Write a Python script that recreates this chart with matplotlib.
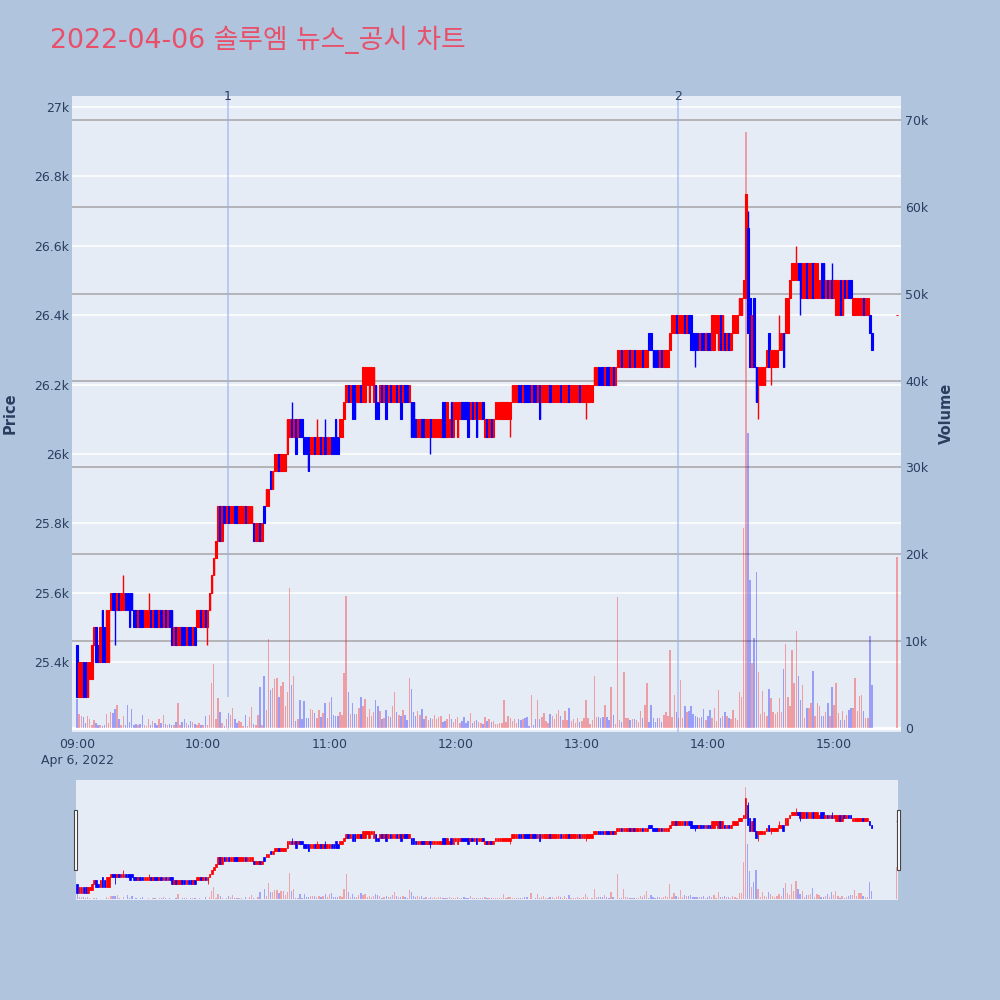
import matplotlib
matplotlib.use('Agg')
import matplotlib.pyplot as plt
from matplotlib.patches import Rectangle

plt.rcParams['font.family'] = ['DejaVu Sans', 'Noto Sans CJK KR']

title = "2022-04-06 솔루엠 뉴스_공시 차트"

# minutes after 09:00 (one candle per minute, plus the 15:30 closing auction)
minutes = list(range(379)) + [390]

open_ = [
    25450, 25300, 25300, 25400, 25400, 25300, 25350, 25350, 25450, 25500,
    25450, 25400, 25550, 25500, 25400, 25400, 25550, 25600, 25600, 25550,
    25600, 25550, 25550, 25600, 25600, 25600, 25600, 25550, 25550, 25500,
    25550, 25550, 25500, 25500, 25500, 25550, 25500, 25550, 25550, 25500,
    25550, 25500, 25550, 25500, 25550, 25550, 25450, 25500, 25450, 25450,
    25500, 25500, 25450, 25500, 25500, 25450, 25500, 25500, 25500, 25550,
    25500, 25550, 25500, 25550, 25600, 25650, 25700, 25750, 25850, 25750,
    25850, 25800, 25850, 25800, 25800, 25850, 25850, 25800, 25800, 25800,
    25850, 25800, 25800, 25800, 25800, 25750, 25750, 25800, 25750, 25850,
    25850, 25850, 25950, 25900, 25950, 25950, 26000, 25950, 25950, 25950,
    26000, 26050, 26100, 26050, 26100, 26050, 26100, 26100, 26050, 26050,
    26050, 26000, 26000, 26050, 26000, 26000, 26050, 26000, 26050, 26000,
    26000, 26050, 26050, 26100, 26050, 26050, 26050, 26100, 26150, 26200,
    26150, 26200, 26200, 26150, 26150, 26200, 26150, 26150, 26200, 26150,
    26200, 26150, 26200, 26150, 26150, 26200, 26150, 26200, 26150, 26200,
    26150, 26150, 26200, 26150, 26200, 26150, 26200, 26200, 26150, 26150,
    26150, 26100, 26050, 26050, 26100, 26100, 26050, 26050, 26100, 26050,
    26050, 26050, 26050, 26050, 26150, 26150, 26050, 26050, 26150, 26050,
    26100, 26050, 26100, 26150, 26150, 26150, 26150, 26100, 26150, 26100,
    26150, 26100, 26100, 26150, 26050, 26100, 26050, 26100, 26050, 26100,
    26100, 26100, 26100, 26100, 26100, 26100, 26100, 26150, 26150, 26150,
    26200, 26200, 26150, 26200, 26200, 26200, 26150, 26200, 26200, 26150,
    26200, 26150, 26150, 26150, 26150, 26200, 26150, 26150, 26150, 26150,
    26200, 26150, 26150, 26150, 26200, 26150, 26150, 26150, 26150, 26200,
    26150, 26150, 26150, 26150, 26150, 26150, 26200, 26200, 26250, 26250,
    26250, 26200, 26250, 26250, 26200, 26250, 26200, 26250, 26250, 26300,
    26250, 26250, 26250, 26300, 26250, 26300, 26250, 26250, 26250, 26300,
    26250, 26250, 26350, 26350, 26300, 26300, 26300, 26250, 26300, 26250,
    26250, 26250, 26300, 26350, 26350, 26400, 26350, 26350, 26350, 26400,
    26350, 26400, 26400, 26350, 26350, 26350, 26300, 26350, 26350, 26300,
    26350, 26350, 26300, 26300, 26350, 26300, 26400, 26300, 26350, 26300,
    26350, 26300, 26350, 26350, 26350, 26400, 26400, 26450, 26450, 26650,
    26450, 26250, 26450, 26250, 26200, 26200, 26200, 26200, 26250, 26350,
    26250, 26250, 26250, 26250, 26300, 26300, 26350, 26350, 26350, 26450,
    26500, 26500, 26500, 26550, 26550, 26450, 26450, 26550, 26450, 26450,
    26550, 26450, 26450, 26450, 26550, 26550, 26450, 26500, 26450, 26500,
    26450, 26400, 26400, 26500, 26400, 26500, 26450, 26500, 26500, 26400,
    26400, 26400, 26400, 26400, 26450, 26400, 26400, 26400, 26350,
    26400,
]
close = [
    25300, 25400, 25400, 25300, 25300, 25400, 25400, 25450, 25500, 25400,
    25400, 25500, 25400, 25400, 25550, 25550, 25600, 25550, 25550, 25600,
    25550, 25600, 25600, 25550, 25550, 25500, 25550, 25500, 25500, 25550,
    25500, 25500, 25550, 25550, 25550, 25500, 25550, 25500, 25500, 25550,
    25500, 25550, 25500, 25550, 25500, 25450, 25500, 25450, 25500, 25500,
    25450, 25450, 25500, 25450, 25450, 25500, 25450, 25550, 25550, 25500,
    25550, 25500, 25550, 25600, 25650, 25700, 25750, 25850, 25750, 25850,
    25800, 25850, 25800, 25850, 25850, 25800, 25800, 25850, 25850, 25850,
    25800, 25850, 25850, 25850, 25750, 25800, 25800, 25750, 25800, 25800,
    25900, 25900, 25900, 25950, 26000, 26000, 25950, 26000, 26000, 26000,
    26100, 26100, 26050, 26100, 26000, 26100, 26050, 26050, 26000, 26000,
    25950, 26050, 26050, 26000, 26050, 26050, 26000, 26050, 26000, 26050,
    26050, 26000, 26000, 26000, 26000, 26100, 26100, 26150, 26200, 26150,
    26200, 26100, 26100, 26200, 26200, 26150, 26250, 26250, 26250, 26250,
    26250, 26250, 26100, 26100, 26200, 26150, 26200, 26100, 26200, 26150,
    26200, 26200, 26150, 26200, 26100, 26200, 26150, 26150, 26200, 26050,
    26050, 26050, 26100, 26100, 26050, 26050, 26100, 26100, 26050, 26100,
    26100, 26100, 26100, 26100, 26050, 26050, 26150, 26100, 26050, 26150,
    26150, 26150, 26150, 26100, 26100, 26100, 26050, 26150, 26100, 26150,
    26050, 26150, 26150, 26100, 26100, 26050, 26100, 26050, 26100, 26150,
    26150, 26150, 26150, 26150, 26150, 26150, 26150, 26200, 26200, 26200,
    26150, 26150, 26200, 26150, 26150, 26150, 26200, 26150, 26150, 26200,
    26100, 26200, 26200, 26200, 26200, 26150, 26200, 26200, 26200, 26200,
    26150, 26200, 26200, 26200, 26150, 26200, 26200, 26200, 26200, 26150,
    26200, 26200, 26200, 26200, 26200, 26200, 26250, 26250, 26200, 26200,
    26200, 26250, 26200, 26200, 26250, 26200, 26250, 26300, 26300, 26250,
    26300, 26300, 26300, 26250, 26300, 26250, 26300, 26300, 26300, 26250,
    26300, 26300, 26300, 26300, 26250, 26250, 26250, 26300, 26250, 26300,
    26300, 26300, 26350, 26400, 26400, 26350, 26400, 26400, 26400, 26350,
    26400, 26350, 26300, 26300, 26300, 26300, 26350, 26300, 26300, 26350,
    26300, 26300, 26400, 26400, 26400, 26400, 26300, 26400, 26300, 26350,
    26300, 26350, 26400, 26400, 26400, 26450, 26450, 26500, 26750, 26350,
    26250, 26400, 26250, 26150, 26250, 26250, 26250, 26250, 26300, 26250,
    26300, 26300, 26300, 26300, 26350, 26350, 26250, 26450, 26450, 26500,
    26550, 26550, 26550, 26500, 26450, 26550, 26550, 26450, 26550, 26550,
    26450, 26550, 26550, 26500, 26450, 26450, 26500, 26450, 26500, 26450,
    26500, 26500, 26500, 26400, 26500, 26450, 26500, 26450, 26450, 26450,
    26450, 26450, 26450, 26450, 26400, 26450, 26450, 26350, 26300,
    26400,
]
high_wick = {22: 25650, 34: 25600, 102: 26150, 114: 26100, 118: 26100,
             319: 26700, 329: 26350, 334: 26400, 342: 26600, 359: 26550}
low_wick = {18: 25450, 62: 25450, 168: 26000, 206: 26050, 242: 26100,
            294: 26250, 324: 26100, 330: 26200, 344: 26400}

volume_k = [
    3.3, 1.65, 1.4, 1.3, 0.6, 1.4, 1.0, 0.4, 0.9, 0.6,
    0.4, 0.3, 0.2, 0.3, 1.65, 0.6, 1.8, 1.7, 2.2, 2.6,
    1.0, 0.4, 1.35, 0.4, 2.6, 0.65, 2.2, 0.4, 0.5, 0.3,
    0.5, 1.5, 0.4, 0.2, 1.0, 0.3, 0.8, 0.6, 0.4, 1.05,
    0.6, 1.5, 0.5, 0.3, 0.5, 0.4, 0.3, 0.65, 2.9, 0.4,
    0.7, 1.0, 0.6, 0.4, 0.85, 0.65, 0.5, 0.4, 0.6, 0.4,
    0.3, 1.4, 0.4, 1.5, 5.2, 7.4, 1.0, 3.5, 1.8, 0.6,
    0.2, 1.0, 1.7, 1.5, 2.3, 1.0, 0.6, 0.8, 0.65, 0.2,
    1.5, 0.2, 1.3, 2.4, 0.5, 0.4, 1.5, 4.7, 0.4, 6.0,
    2.1, 10.2, 4.4, 4.6, 5.6, 5.8, 3.6, 4.8, 5.3, 2.5,
    4.2, 16.1, 4.9, 6.0, 0.8, 1.0, 3.2, 1.0, 3.1, 1.15,
    1.15, 2.2, 2.1, 1.7, 1.15, 2.1, 1.3, 1.7, 2.9, 1.15,
    3.0, 3.6, 1.5, 1.4, 1.4, 1.9, 1.5, 6.3, 15.2, 4.2,
    1.65, 2.9, 1.65, 1.65, 2.3, 3.6, 2.5, 3.3, 1.3, 2.2,
    1.4, 1.9, 3.25, 2.5, 2.0, 1.0, 1.15, 2.1, 1.4, 1.3,
    2.5, 4.2, 1.8, 1.5, 1.4, 2.1, 1.5, 0.9, 5.8, 4.5,
    1.8, 1.4, 2.0, 1.5, 2.2, 1.0, 1.4, 0.9, 1.15, 1.0,
    1.5, 1.0, 1.3, 1.4, 0.65, 0.77, 1.0, 1.65, 1.0, 0.65,
    1.0, 1.3, 0.6, 0.77, 1.3, 0.6, 0.77, 1.7, 0.6, 0.77,
    0.9, 0.65, 0.6, 0.5, 1.3, 0.77, 1.0, 0.65, 0.77, 0.5,
    0.5, 0.6, 0.6, 3.2, 0.65, 1.4, 1.15, 0.77, 1.0, 0.6,
    1.0, 0.9, 1.0, 1.15, 1.3, 0.27, 3.8, 0.4, 1.0, 3.2,
    1.0, 1.3, 1.7, 0.77, 0.6, 1.65, 1.4, 1.0, 1.65, 2.1,
    1.4, 0.9, 2.0, 0.9, 2.3, 0.77, 1.0, 0.6, 1.15, 0.65,
    0.8, 1.2, 3.25, 1.2, 0.45, 0.9, 5.95, 1.26, 1.26, 1.1,
    1.26, 2.6, 1.26, 0.9, 4.7, 1.44, 0.45, 15.1, 0.9, 0.7,
    6.5, 1.1, 1.1, 0.9, 1.0, 1.0, 0.9, 0.7, 2.0, 1.1,
    2.7, 5.2, 0.7, 2.7, 1.1, 0.7, 1.1, 1.1, 0.7, 1.5,
    1.8, 1.35, 9.0, 1.26, 3.8, 1.9, 1.1, 5.5, 1.1, 2.5,
    1.8, 2.0, 2.5, 1.6, 1.35, 1.26, 1.1, 1.26, 2.2, 0.9,
    1.35, 2.1, 1.1, 2.3, 0.8, 4.4, 1.1, 1.35, 1.9, 1.35,
    1.1, 1.0, 2.1, 1.1, 0.9, 4.1, 3.6, 23.0, 68.6, 34.0,
    17.0, 7.5, 10.4, 18.0, 6.5, 1.6, 4.3, 1.8, 1.35, 4.5,
    3.4, 1.8, 1.6, 1.8, 3.4, 1.8, 6.8, 9.7, 3.6, 2.5,
    9.0, 5.2, 11.2, 6.0, 3.2, 5.0, 1.1, 2.3, 2.3, 2.9,
    6.6, 1.35, 2.9, 2.5, 1.35, 1.35, 1.8, 2.9, 1.35, 4.7,
    2.7, 5.2, 1.7, 0.9, 2.0, 0.9, 1.44, 2.1, 2.3, 2.3,
    5.7, 2.0, 3.7, 3.8, 2.0, 1.1, 1.1, 10.6, 5.0,
    19.7,
]

price_ticks = [25400, 25600, 25800, 26000, 26200, 26400, 26600, 26800, 27000]
price_labels = ["25.4k", "25.6k", "25.8k", "26k", "26.2k", "26.4k", "26.6k", "26.8k", "27k"]
vol_ticks = [0, 10000, 20000, 30000, 40000, 50000, 60000, 70000]
vol_labels = ["0", "10k", "20k", "30k", "40k", "50k", "60k", "70k"]
x_ticks = [0, 60, 120, 180, 240, 300, 360]
x_labels = ["09:00\nApr 6, 2022", "10:00", "11:00", "12:00", "13:00", "14:00", "15:00"]
events = [(71.8, "1"), (285.8, "2")]

# ---- derive candle extents / colours ----
highs = [max(o, c, high_wick.get(i, o)) for i, (o, c) in enumerate(zip(open_, close))]
lows = [min(o, c, low_wick.get(i, o)) for i, (o, c) in enumerate(zip(open_, close))]
RED, BLUE = '#ff0000', '#0000ff'
cols = [RED if c >= o else BLUE for o, c in zip(open_, close)]
vols = [v * 1000 for v in volume_k]

P_LO, P_HI = 25198, 27032
V_LO, V_HI = -460, 72760
BG = '#e5ecf6'
TXT = '#2a3f5f'

fig = plt.figure(figsize=(10, 10), dpi=100)
fig.patch.set_facecolor('#b0c4de')


def draw(axv, axp, body_w, body_lw, wick_lw, vol_w, vol_alpha):
    bottoms = [min(o, c) for o, c in zip(open_, close)]
    heights = [abs(c - o) for o, c in zip(open_, close)]
    axv.bar(minutes, vols, width=vol_w, color=cols, alpha=vol_alpha, linewidth=0, zorder=2)
    axp.vlines(minutes, lows, highs, colors=cols, linewidth=wick_lw, zorder=3)
    axp.bar(minutes, heights, bottom=bottoms, width=body_w, color=cols,
            edgecolor=cols, linewidth=body_lw, zorder=4)


# ---- main chart ----
axv = fig.add_axes([0.072, 0.268, 0.829, 0.636])
axv.set_facecolor(BG)
axv.set_xlim(-2.4, 391.8)
axv.set_ylim(V_LO, V_HI)
for p in price_ticks:
    v = (p - P_LO) / (P_HI - P_LO) * (V_HI - V_LO) + V_LO
    axv.axhline(v, color='white', linewidth=1.1, zorder=0.5)
for v in vol_ticks[1:]:
    axv.axhline(v, color='#b3b3b8', linewidth=1.4, zorder=0.6)
axv.axhline(0, color='white', linewidth=2.0, zorder=0.7)

axp = axv.twinx()
axp.set_ylim(P_LO, P_HI)
axp.patch.set_visible(False)
draw(axv, axp, 0.72, 0.8, 1.0, 0.7, 0.33)

for t, lab in events:
    axv.vlines(t, 0, 1, transform=axv.get_xaxis_transform(), color='#9db2ee',
               alpha=0.7, linewidth=1.2, zorder=1.5)
    axv.text(t, 1.0, lab, transform=axv.get_xaxis_transform(), ha='center',
             va='center', fontsize=9, color=TXT)
axv.vlines(events[0][0], V_LO, 3570, color=BG, linewidth=1.6, zorder=1.6)

for a in (axv, axp):
    for s in a.spines.values():
        s.set_visible(False)
axv.yaxis.tick_right()
axv.set_yticks(vol_ticks)
axv.set_yticklabels(vol_labels)
axv.tick_params(axis='y', length=0, pad=3, labelsize=9, labelcolor=TXT)
axp.yaxis.tick_left()
axp.set_yticks(price_ticks)
axp.set_yticklabels(price_labels)
axp.tick_params(axis='y', length=0, pad=2, labelsize=9, labelcolor=TXT)
axv.set_xticks(x_ticks)
axv.set_xticklabels(x_labels, linespacing=1.3)
axv.tick_params(axis='x', length=0, pad=4, labelsize=9, labelcolor=TXT)

fig.text(0.010, 0.587, 'Price', rotation=90, ha='center', va='center',
         fontsize=10.5, fontweight='bold', color=TXT)
fig.text(0.946, 0.587, 'Volume', rotation=90, ha='center', va='center',
         fontsize=10.5, fontweight='bold', color=TXT)
fig.text(0.05, 0.96, title, ha='left', va='center', fontsize=19.3, color='#e8506a')

# ---- range slider ----
asv = fig.add_axes([0.076, 0.1, 0.822, 0.12])
asv.set_facecolor(BG)
asv.set_xlim(-0.6, 390.6)
asv.set_ylim(V_LO, V_HI)
asp = asv.twinx()
asp.set_ylim(P_LO, P_HI)
asp.patch.set_visible(False)
draw(asv, asp, 0.8, 0.5, 0.6, 0.6, 0.3)
for a in (asv, asp):
    a.set_xticks([])
    a.set_yticks([])
    for s in a.spines.values():
        s.set_visible(False)
for hx in (0.0735, 0.8965):
    fig.patches.append(Rectangle((hx, 0.13), 0.0035, 0.06, transform=fig.transFigure,
                                 facecolor='white', edgecolor='#444444', linewidth=0.8))

fig.savefig('out.png', dpi=100, facecolor=fig.get_facecolor())
